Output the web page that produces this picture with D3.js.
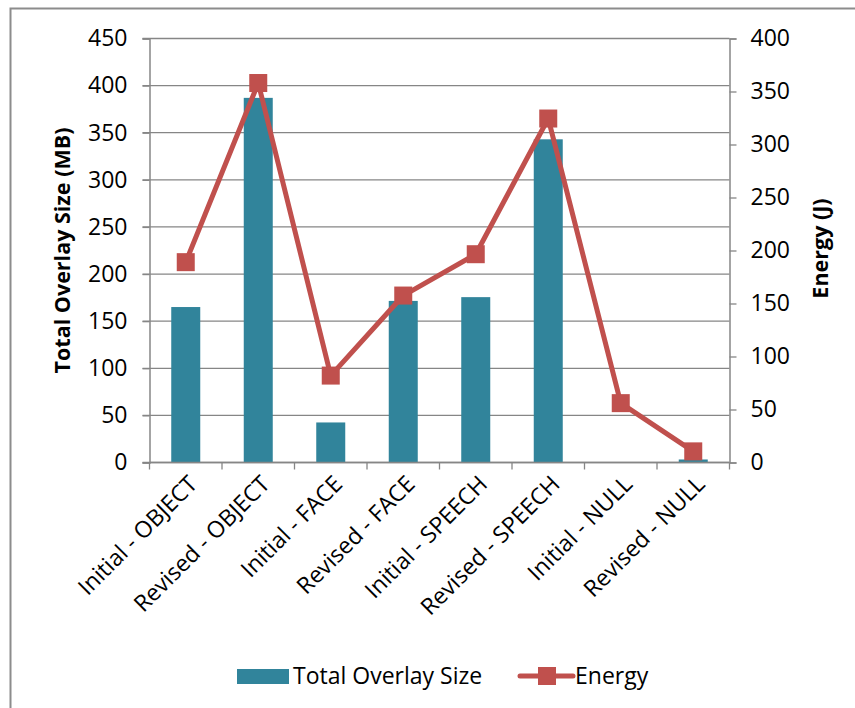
<!DOCTYPE html>
<html><head><meta charset="utf-8">
<script src="https://cdn.jsdelivr.net/npm/d3@7"></script>
<style>body{margin:0;background:#fff}svg{display:block}text{font-family:"Open Sans",sans-serif;fill:#000}</style>
</head><body>
<svg id="c" width="855" height="708"></svg>
<script>
const categories = ["Initial - OBJECT","Revised - OBJECT","Initial - FACE","Revised - FACE","Initial - SPEECH","Revised - SPEECH","Initial - NULL","Revised - NULL"];
const overlaySize = [165, 387, 42.5, 171.5, 175.5, 343, 0.5, 3.2];
const energy = [189, 358, 82, 157.5, 196.5, 324.5, 56, 10.5];
const leftTicks = [0,50,100,150,200,250,300,350,400,450];
const rightTicks = [0,50,100,150,200,250,300,350,400];
const seriesNames = ["Total Overlay Size","Energy"];

const FONT = "'Open Sans',sans-serif";
const FS = 23;
const svg = d3.select("#c");
const barColor = "#31849B", lineColor = "#C0504D", axisColor = "#868686";
const L = 149.5, R = 729.5, T = 38.5, B = 462.5;

svg.append("rect").attr("x",10.5).attr("y",8.5).attr("width",900).attr("height",800)
  .attr("fill","none").attr("stroke","#8c8c8c").attr("stroke-width",2);

const x = d3.scaleBand().domain(categories).range([L,R]).paddingInner(0.6).paddingOuter(0.3);
const xb = d3.scaleBand().domain(categories).range([L,R]);
const yL = d3.scaleLinear().domain([0,450]).range([B,T]);
const yR = d3.scaleLinear().domain([0,400]).range([B,T]);

// gridlines
svg.append("g").selectAll("line").data(leftTicks).join("line")
  .attr("x1",L-7).attr("x2",R).attr("y1",d=>yL(d)).attr("y2",d=>yL(d))
  .attr("stroke",axisColor).attr("stroke-width",1.3);

// bars
svg.append("g").selectAll("rect").data(categories).join("rect")
  .attr("x",d=>x(d)).attr("width",x.bandwidth())
  .attr("y",(d,i)=>yL(overlaySize[i])).attr("height",(d,i)=>B-yL(overlaySize[i]))
  .attr("fill",(d,i)=>overlaySize[i]<1?"#d9e6ea":barColor);

// left axis
const gl = svg.append("g").attr("transform",`translate(${L},0)`)
  .call(d3.axisLeft(yL).tickValues(leftTicks).tickSize(7).tickPadding(15));
// right axis
const gr = svg.append("g").attr("transform",`translate(${R},0)`)
  .call(d3.axisRight(yR).tickValues(rightTicks).tickSize(7).tickPadding(14));
// bottom axis
const gb = svg.append("g").attr("transform",`translate(0,${B})`);
gb.append("line").attr("x1",L).attr("x2",R).attr("y1",0).attr("y2",0).attr("stroke",axisColor).attr("stroke-width",1.5);
gb.selectAll("line.t").data(categories.concat(["_end"])).join("line").attr("class","t")
  .attr("x1",(d,i)=>L+i*xb.step()).attr("x2",(d,i)=>L+i*xb.step()).attr("y1",0).attr("y2",7)
  .attr("stroke",axisColor).attr("stroke-width",1.3);
gb.selectAll("text").data(categories).join("text")
  .attr("transform",d=>`translate(${xb(d)+xb.bandwidth()/2+13},${23}) rotate(-45)`)
  .attr("text-anchor","end").attr("font-size",FS).text(d=>d);

[gl,gr].forEach(g=>{
  g.select(".domain").attr("stroke",axisColor).attr("stroke-width",1.5);
  g.selectAll(".tick line").attr("stroke",axisColor).attr("stroke-width",1.3);
  g.selectAll(".tick text").attr("font-size",FS).attr("font-family",FONT).attr("fill","#000");
});

// energy line
const cx = (d,i)=>xb(d)+xb.bandwidth()/2;
const line = d3.line().x((d,i)=>cx(categories[i],i)).y(d=>yR(d));
svg.append("path").datum(energy).attr("d",line).attr("fill","none")
  .attr("stroke",lineColor).attr("stroke-width",5).attr("stroke-linejoin","round");
svg.append("g").selectAll("rect").data(energy).join("rect")
  .attr("x",(d,i)=>cx(categories[i],i)-9).attr("y",d=>yR(d)-9)
  .attr("width",18).attr("height",18).attr("fill",lineColor);

// axis titles
svg.append("text").attr("transform",`translate(70,${(T+B)/2}) rotate(-90)`)
  .attr("text-anchor","middle").attr("font-size",21.5).attr("font-weight","bold").text("Total Overlay Size (MB)");
svg.append("text").attr("transform",`translate(828,${(T+B)/2-2}) rotate(-90)`)
  .attr("text-anchor","middle").attr("font-size",21.5).attr("font-weight","bold").text("Energy (J)");

// legend
const lg = svg.append("g");
lg.append("rect").attr("x",237).attr("y",669).attr("width",52).attr("height",15).attr("fill",barColor);
lg.append("text").attr("x",293).attr("y",684).attr("font-size",FS).text(seriesNames[0]);
lg.append("line").attr("x1",520).attr("x2",573).attr("y1",676).attr("y2",676).attr("stroke",lineColor).attr("stroke-width",5).attr("stroke-linecap","round");
lg.append("rect").attr("x",538).attr("y",667).attr("width",18).attr("height",18).attr("fill",lineColor);
lg.append("text").attr("x",575).attr("y",684).attr("font-size",FS).text(seriesNames[1]);
</script>
</body></html>
